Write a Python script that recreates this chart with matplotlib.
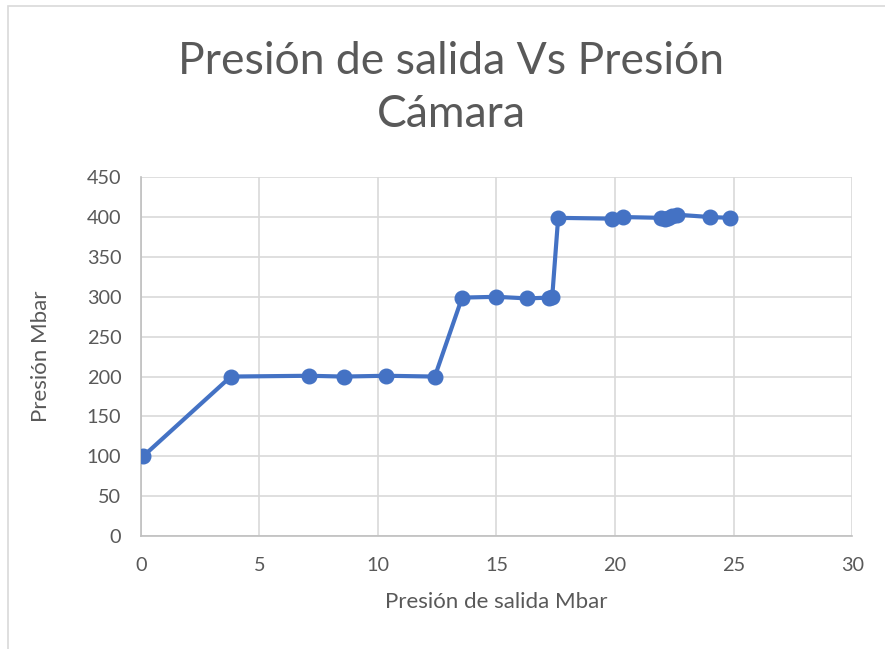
import matplotlib.pyplot as plt
from matplotlib.patches import Rectangle

# Presión de salida (Mbar) vs Presión cámara (Mbar)
salida = [0.1, 3.8, 7.1, 8.55, 10.35, 12.4, 13.55, 15.0, 16.3, 17.2, 17.35,
          17.6, 19.85, 20.35, 21.95, 22.1, 22.25, 22.4, 22.6, 24.0, 24.85]
camara = [100, 200, 201, 200, 201, 200, 299, 300, 298, 299, 300,
          399, 398, 400, 399, 398, 399, 401, 403, 400, 399]

x_ticks = [0, 5, 10, 15, 20, 25, 30]
y_ticks = [0, 50, 100, 150, 200, 250, 300, 350, 400, 450]

plt.rcParams['font.family'] = ['Lato', 'DejaVu Sans']
gray = '#595959'
blue = '#4472C4'

fig = plt.figure(figsize=(8.85, 6.49), dpi=100)
ax = fig.add_axes([0.159, 0.174, 0.804, 0.553])

ax.plot(salida, camara, color=blue, linewidth=3, marker='o',
        markersize=10.5, zorder=3)

ax.set_xlim(0, 30)
ax.set_ylim(0, 450)
ax.set_xticks(x_ticks)
ax.set_yticks(y_ticks)
ax.grid(True, color='#d9d9d9', linewidth=1.2)
ax.set_axisbelow(True)
for side in ['top', 'right']:
    ax.spines[side].set_visible(False)
for side in ['left', 'bottom']:
    ax.spines[side].set_color('#bfbfbf')
    ax.spines[side].set_linewidth(1.2)
ax.tick_params(length=0, labelsize=14.3, labelcolor=gray)
ax.tick_params(axis='x', pad=15)
ax.tick_params(axis='y', pad=14)

ax.set_xlabel('Presión de salida Mbar', fontsize=16, color=gray, labelpad=13)
ax.set_ylabel('Presión Mbar', fontsize=16, color=gray, labelpad=26)

fig.text(0.51, 0.864, 'Presión de salida Vs Presión\nCámara', ha='center',
         va='center', fontsize=32, color=gray, linespacing=1.35)

# chart border
fig.patches.append(Rectangle((0.009, -0.01), 1.0, 1.0, transform=fig.transFigure,
                             fill=False, edgecolor='#d9d9d9', linewidth=1.2))

fig.savefig('out.png', dpi=100)
